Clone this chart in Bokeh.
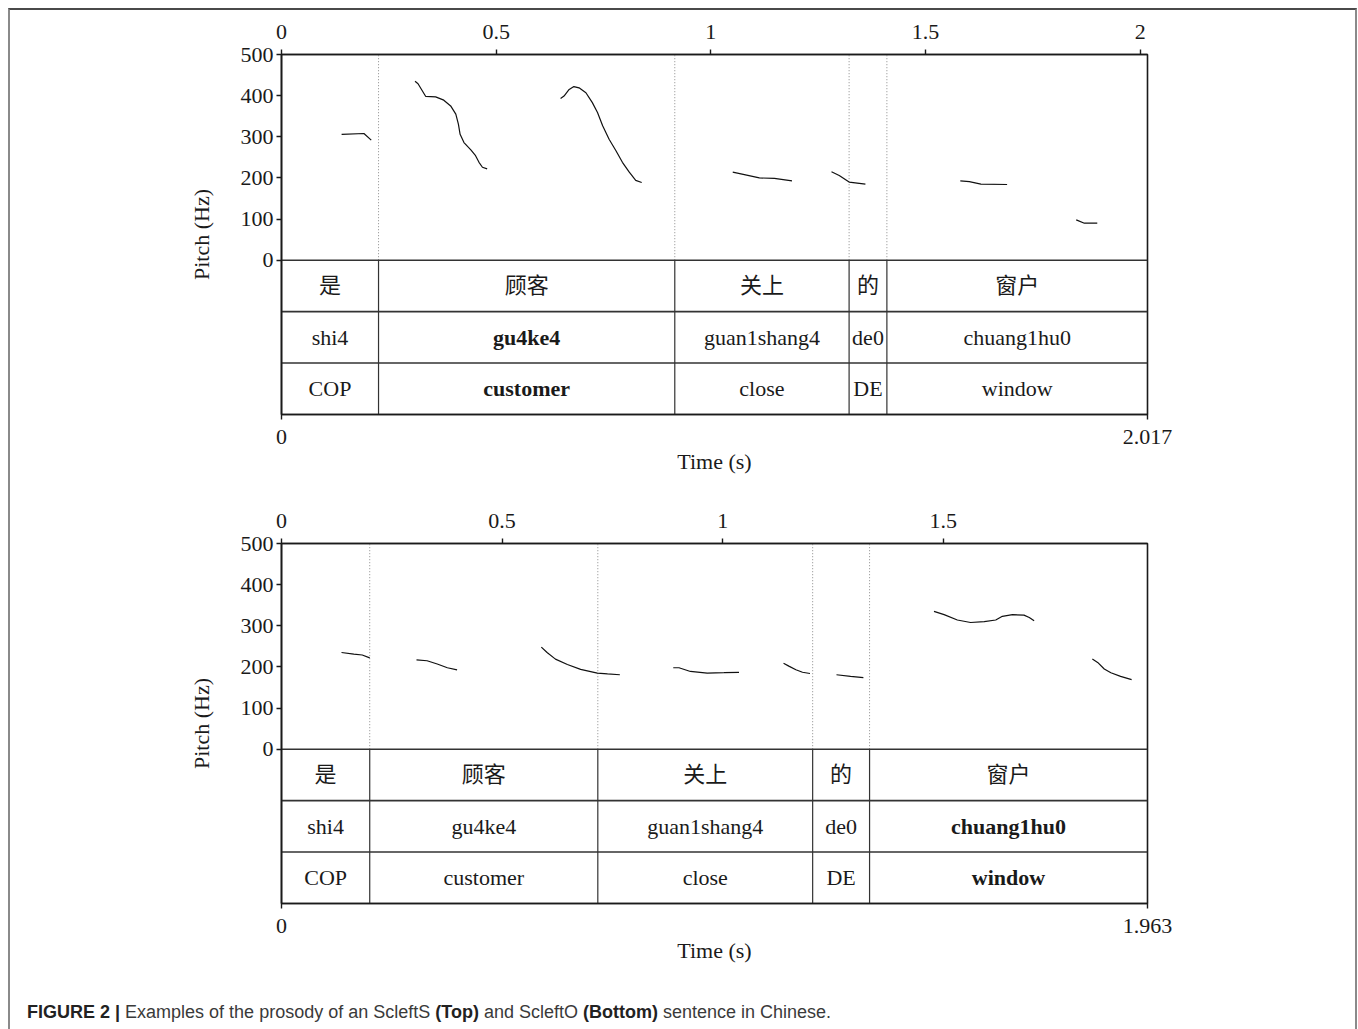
from bokeh.plotting import figure
from bokeh.models import (ColumnDataSource, FixedTicker, LinearAxis, Range1d,
                          CustomJSTickFormatter, Div)
from bokeh.layouts import column
from bokeh.embed import file_html
from bokeh.resources import INLINE
from bokeh.core.properties import value

# ---------------- data: top panel (ScleftS) ----------------
top_duration = 2.017
top_bounds = [0.226, 0.916, 1.322, 1.410]
top_words = ["是", "顾客", "关上", "的", "窗户"]
top_pinyin = ["shi4", "gu4ke4", "guan1shang4", "de0", "chuang1hu0"]
top_gloss = ["COP", "customer", "close", "DE", "window"]
top_focus = [False, True, False, False, False]
top_time_ticks = [0, 0.5, 1, 1.5, 2]
top_pitch_t = [
    [0.140, 0.192, 0.209],
    [0.311, 0.318, 0.336, 0.359, 0.378, 0.394, 0.406, 0.412, 0.416, 0.425, 0.441, 0.452, 0.460, 0.468, 0.479],
    [0.650, 0.658, 0.670, 0.681, 0.693, 0.709, 0.724, 0.736, 0.748, 0.763, 0.779, 0.794, 0.810, 0.825, 0.839],
    [1.051, 1.070, 1.113, 1.148, 1.189],
    [1.281, 1.299, 1.322, 1.360],
    [1.581, 1.602, 1.629, 1.690],
    [1.851, 1.870, 1.900],
]
top_pitch_hz = [
    [306, 308, 292],
    [435, 429, 398, 397, 389, 375, 355, 331, 306, 286, 268, 254, 238, 226, 222],
    [393, 399, 415, 422, 419, 407, 383, 359, 327, 294, 266, 238, 214, 194, 189],
    [214, 210, 200, 199, 193],
    [215, 206, 190, 185],
    [193, 191, 185, 184],
    [98, 90, 90],
]

# ---------------- data: bottom panel (ScleftO) ----------------
bot_duration = 1.963
bot_bounds = [0.200, 0.717, 1.204, 1.333]
bot_words = ["是", "顾客", "关上", "的", "窗户"]
bot_pinyin = ["shi4", "gu4ke4", "guan1shang4", "de0", "chuang1hu0"]
bot_gloss = ["COP", "customer", "close", "DE", "window"]
bot_focus = [False, False, False, False, True]
bot_time_ticks = [0, 0.5, 1, 1.5]
bot_pitch_t = [
    [0.136, 0.164, 0.183, 0.200],
    [0.306, 0.330, 0.353, 0.376, 0.398],
    [0.589, 0.602, 0.621, 0.648, 0.678, 0.716, 0.739, 0.767],
    [0.888, 0.901, 0.927, 0.965, 1.003, 1.037],
    [1.138, 1.150, 1.166, 1.181, 1.198],
    [1.258, 1.290, 1.319],
    [1.479, 1.502, 1.532, 1.562, 1.593, 1.619, 1.634, 1.657, 1.683, 1.695, 1.706],
    [1.838, 1.850, 1.865, 1.880, 1.902, 1.927],
]
bot_pitch_hz = [
    [235, 231, 229, 222],
    [217, 215, 207, 198, 193],
    [248, 235, 219, 206, 194, 185, 183, 181],
    [198, 198, 189, 185, 186, 187],
    [209, 202, 193, 187, 184],
    [181, 177, 174],
    [335, 327, 314, 308, 310, 314, 323, 327, 326, 320, 312],
    [219, 211, 195, 186, 177, 169],
]

pitch_ticks = [0, 100, 200, 300, 400, 500]
pitch_max = 500

# ---------------- styling ----------------
SERIF = "Liberation Serif"
CJK = "Noto Sans CJK SC"
TIER_H = 125          # height of one text tier, in pitch units
N_TIERS = 3
FONT_PX = "22px"
INK = "#1a1a1a"

fmt = CustomJSTickFormatter(code="return tick.toString();")


def style_axis(ax):
    ax.axis_line_color = INK
    ax.axis_line_width = 1.6
    ax.major_tick_line_color = INK
    ax.major_tick_line_width = 1.4
    ax.major_tick_out = 5
    ax.major_tick_in = 0
    ax.minor_tick_out = 0
    ax.minor_tick_in = 0
    ax.major_label_text_font = SERIF
    ax.major_label_text_font_size = FONT_PX
    ax.major_label_text_color = INK
    ax.axis_label_text_font = SERIF
    ax.axis_label_text_font_size = FONT_PX
    ax.axis_label_text_font_style = "normal"
    ax.axis_label_text_color = INK


def make_panel(duration, bounds, words, pinyin, gloss, focus, pt, phz,
               time_ticks, border_top, border_bottom):
    frame_h = 360
    p = figure(width=1345, height=border_top + frame_h + border_bottom,
               x_range=Range1d(0, duration),
               y_range=Range1d(-N_TIERS * TIER_H, pitch_max),
               x_axis_type=None, y_axis_type=None,
               output_backend="svg", toolbar_location=None,
               min_border_left=271, min_border_right=208,
               min_border_top=border_top, min_border_bottom=border_bottom)
    p.outline_line_color = INK
    p.outline_line_width = 1.6
    p.background_fill_color = "white"
    p.border_fill_color = "white"

    # axes
    left = LinearAxis(ticker=FixedTicker(ticks=pitch_ticks), formatter=fmt,
                      axis_label="Pitch (Hz)")
    style_axis(left)
    left.major_label_standoff = 3
    left.axis_label_standoff = 24
    p.add_layout(left, "left")

    above = LinearAxis(ticker=FixedTicker(ticks=time_ticks), formatter=fmt)
    style_axis(above)
    above.major_label_standoff = 11
    p.add_layout(above, "above")

    below = LinearAxis(ticker=FixedTicker(ticks=[0, duration]), formatter=fmt,
                       axis_label="Time (s)")
    style_axis(below)
    below.major_label_standoff = 10
    below.axis_label_standoff = 2
    p.add_layout(below, "below")

    # interval boundaries: dotted in pitch area, solid in the tiers
    p.segment(x0=bounds, x1=bounds, y0=[0] * len(bounds), y1=[pitch_max] * len(bounds),
              line_color="#8a8a8a", line_width=1, line_dash="1 2")
    p.segment(x0=bounds, x1=bounds, y0=[-N_TIERS * TIER_H] * len(bounds),
              y1=[0] * len(bounds), line_color="#333333", line_width=1.2)

    # horizontal tier separators
    ys = [-i * TIER_H for i in range(N_TIERS)]
    p.segment(x0=[0] * len(ys), x1=[duration] * len(ys), y0=ys, y1=ys,
              line_color="#333333", line_width=1.6)

    # pitch contours
    p.multi_line(xs=pt, ys=phz, line_color="#111111", line_width=1.2)

    # tier texts
    edges = [0] + list(bounds) + [duration]
    mids = [(edges[i] + edges[i + 1]) / 2 for i in range(len(words))]
    xs, yv, txt, fonts, styles, dy = [], [], [], [], [], []
    for tier, labels in enumerate([words, pinyin, gloss]):
        yc = -(tier + 0.5) * TIER_H
        for i, lab in enumerate(labels):
            xs.append(mids[i])
            yv.append(yc)
            txt.append(lab)
            fonts.append(CJK if tier == 0 else SERIF)
            styles.append("bold" if (focus[i] and tier > 0) else "normal")
            dy.append(-3 if tier == 0 else 0)
    src = ColumnDataSource(dict(x=xs, y=yv, text=txt, font=fonts, style=styles, dy=dy))
    p.text(x="x", y="y", text="text", source=src, text_font="font",
           text_font_style="style", text_font_size=value(FONT_PX), y_offset="dy",
           text_align="center", text_baseline="middle", text_color=INK)
    return p


p_top = make_panel(top_duration, top_bounds, top_words, top_pinyin, top_gloss,
                   top_focus, top_pitch_t, top_pitch_hz, top_time_ticks, 44, 76)
p_bot = make_panel(bot_duration, bot_bounds, bot_words, bot_pinyin, bot_gloss,
                   bot_focus, bot_pitch_t, bot_pitch_hz, bot_time_ticks, 53, 77)

caption = Div(
    text='<b style="color:#222">FIGURE 2 |</b> Examples of the prosody of an ScleftS '
         '<b style="color:#222">(Top)</b> and ScleftO <b style="color:#222">(Bottom)</b> '
         'sentence in Chinese.',
    width=1345, height=49,
    styles={"font-family": "Liberation Sans", "font-size": "18px", "color": "#3a3a3a",
            "padding-top": "15px", "padding-left": "12px", "box-sizing": "border-box",
            "white-space": "nowrap"})

layout = column(p_top, p_bot, caption, width=1349, margin=(8, 0, 0, 8),
                styles={"border-top": "2px solid #4a4a4a",
                        "border-left": "2px solid #8a8a8a",
                        "border-right": "2px solid #8a8a8a",
                        "background-color": "white"})

open("out.html", "w").write(file_html(layout, INLINE))
